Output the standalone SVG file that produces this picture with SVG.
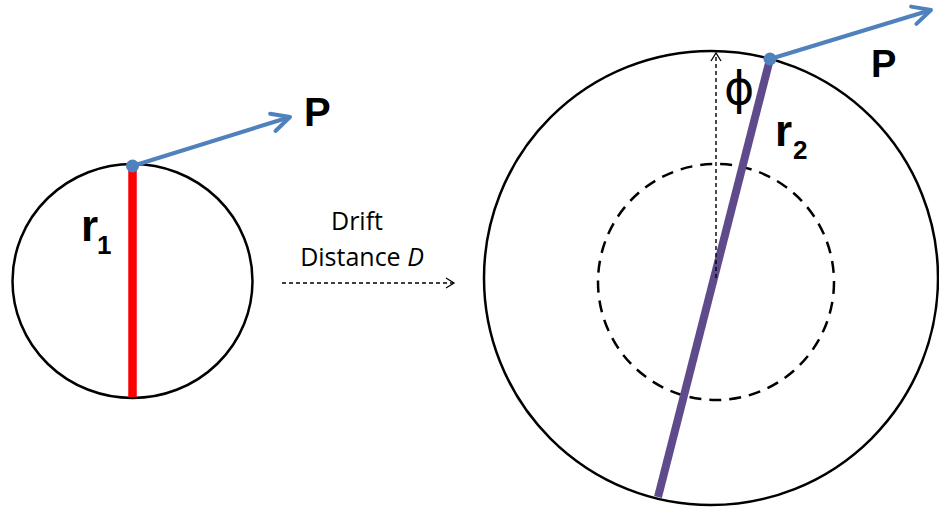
<svg xmlns="http://www.w3.org/2000/svg" width="939" height="507" viewBox="0 0 939 507">
<style>
.circ{fill:none;stroke:#000;stroke-width:2.5}
.dcirc{fill:none;stroke:#000;stroke-width:2.5;stroke-dasharray:12 8}
.blue{stroke:#4F81BD;stroke-width:4;fill:none}
.thin{stroke:#000;stroke-width:1.4;stroke-dasharray:4 3;fill:none}
.lbl{font-family:"Liberation Sans",Arial,sans-serif;font-weight:bold;fill:#000}
.txt{font-family:"Open Sans","Liberation Sans",sans-serif;font-size:25px;fill:#000}
</style>
<defs>
<marker id="bArrow" markerUnits="userSpaceOnUse" viewBox="0 0 24 24" refX="21" refY="12" markerWidth="24" markerHeight="24" orient="auto">
<path d="M3,3 L21,12 L3,21" fill="none" stroke="#4F81BD" stroke-width="4" stroke-linecap="round" stroke-linejoin="round"/>
</marker>
<marker id="kArrow" markerUnits="userSpaceOnUse" viewBox="0 0 12 12" refX="10" refY="6" markerWidth="12" markerHeight="12" orient="auto">
<path d="M2,1 L10,6 L2,11" fill="none" stroke="#000" stroke-width="1.3"/>
</marker>
</defs>

<g id="left-object">
<ellipse class="circ" cx="132.5" cy="281" rx="120" ry="117"/>
<line x1="132.5" y1="166" x2="132.5" y2="397" stroke="#FF0000" stroke-width="8.5"/>
<text class="lbl" x="81" y="241" font-size="44">r</text>
<text class="lbl" x="97" y="254" font-size="26">1</text>
</g>

<g id="right-object">
<circle class="circ" cx="711" cy="278" r="227"/>
<circle class="dcirc" cx="716" cy="282" r="118"/>
<line x1="770" y1="59" x2="658" y2="497" stroke="#5F4B8B" stroke-width="8"/>
<text class="lbl" x="775" y="146" font-size="44">r</text>
<text class="lbl" x="793" y="159" font-size="26">2</text>
<text x="724" y="104" font-family="DejaVu Sans, sans-serif" font-size="46" fill="#000">ϕ</text>
</g>

<g id="drift-label">
<text class="txt" x="357" y="230" text-anchor="middle">Drift</text>
<text class="txt" x="362" y="266" text-anchor="middle">Distance <tspan font-style="italic">D</tspan></text>
</g>

<g id="connectors">
<line class="blue" x1="132.5" y1="166" x2="290" y2="117" marker-end="url(#bArrow)"/>
<line class="blue" x1="770" y1="59" x2="931" y2="10" marker-end="url(#bArrow)"/>
<line class="thin" x1="282" y1="283" x2="454" y2="283" marker-end="url(#kArrow)"/>
<line class="thin" x1="716" y1="278" x2="716" y2="53" marker-end="url(#kArrow)"/>
</g>

<g id="points">
<circle cx="132.5" cy="166" r="6.5" fill="#4F81BD"/>
<circle cx="770" cy="59" r="6.5" fill="#4F81BD"/>
<text class="lbl" x="304" y="126" font-size="40">P</text>
<text class="lbl" x="871" y="77" font-size="38">P</text>
</g>
</svg>
